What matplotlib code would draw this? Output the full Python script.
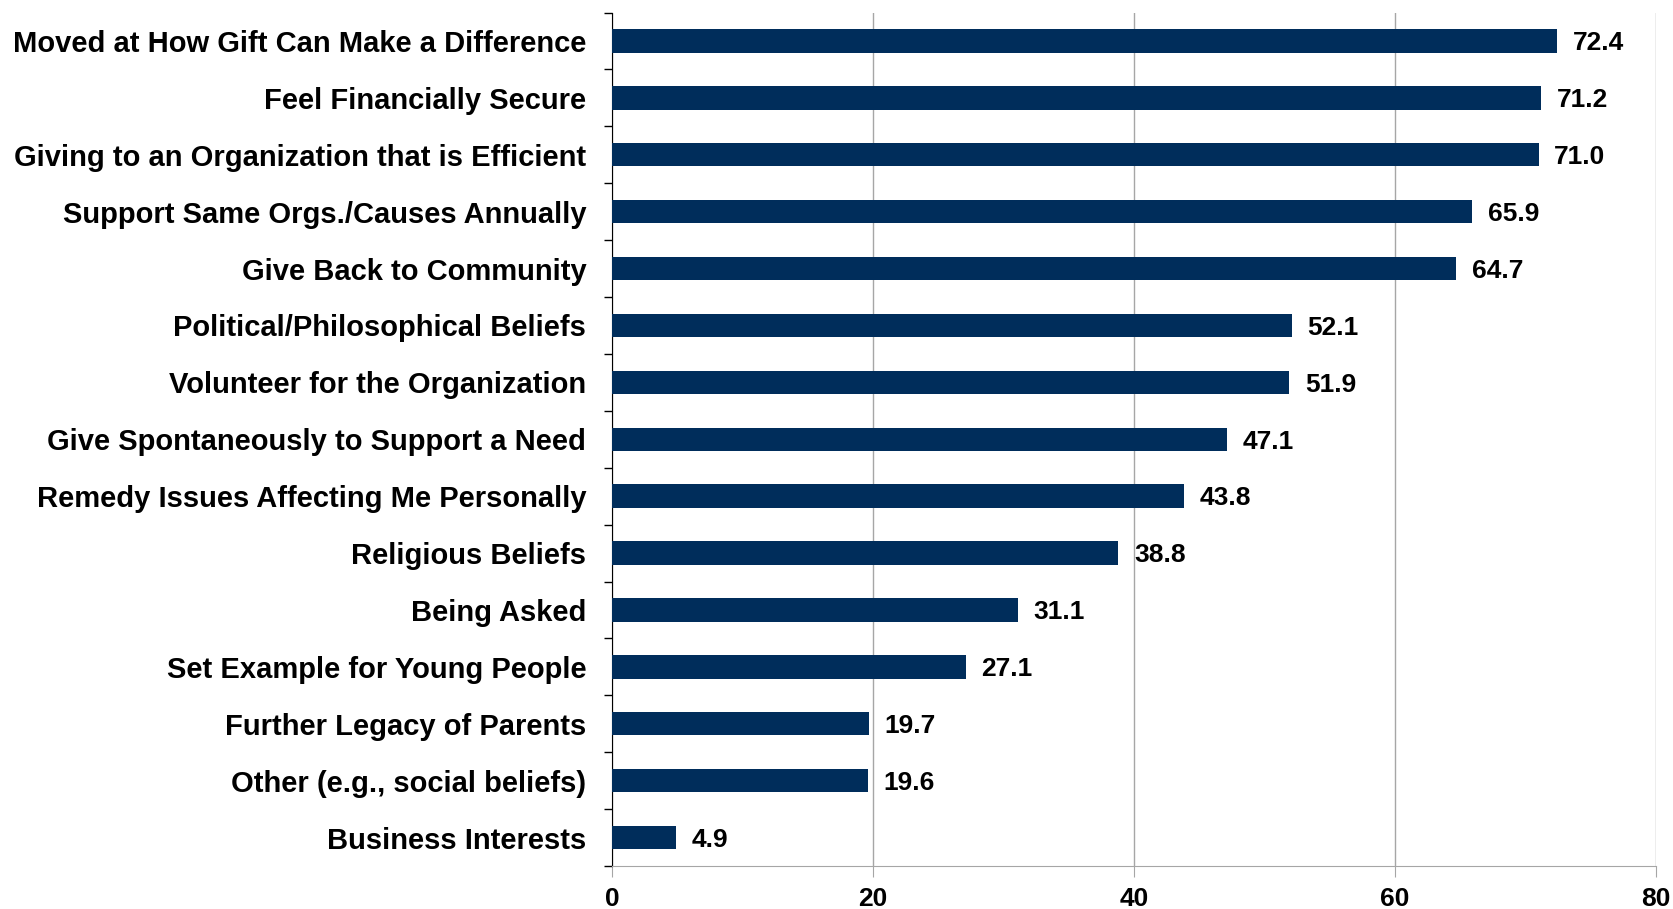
import matplotlib
matplotlib.use("Agg")
import matplotlib.pyplot as plt

categories = [
    "Moved at How Gift Can Make a Difference",
    "Feel Financially Secure",
    "Giving to an Organization that is Efficient",
    "Support Same Orgs./Causes Annually",
    "Give Back to Community",
    "Political/Philosophical Beliefs",
    "Volunteer for the Organization",
    "Give Spontaneously to Support a Need",
    "Remedy Issues Affecting Me Personally",
    "Religious Beliefs",
    "Being Asked",
    "Set Example for Young People",
    "Further Legacy of Parents",
    "Other (e.g., social beliefs)",
    "Business Interests",
]
values = [72.4, 71.2, 71.0, 65.9, 64.7, 52.1, 51.9, 47.1, 43.8, 38.8, 31.1, 27.1, 19.7, 19.6, 4.9]
x_ticks = [0, 20, 40, 60, 80]

plt.rcParams["font.family"] = ["Liberation Sans", "DejaVu Sans"]
plt.rcParams["font.weight"] = "bold"

fig = plt.figure(figsize=(16.74, 9.09), dpi=100)
ax = fig.add_axes([612 / 1674, 1 - 866 / 909, (1656 - 612) / 1674, (866 - 12.5) / 909])

n = len(categories)
pos = list(range(n))
ax.barh(pos, values, height=0.41, color="#002D5B", zorder=3)

# value labels just right of each bar
for p, v in zip(pos, values):
    ax.text(v + 1.2, p + 0.04, f"{v:.1f}", va="center", ha="left", fontsize=19, fontweight="bold")

ax.set_xlim(0, 80)
ax.set_ylim(n - 0.5, -0.5)
ax.set_xticks(x_ticks)
ax.set_xticklabels([str(t) for t in x_ticks], fontsize=19, fontweight="bold")
ax.xaxis.grid(True, color="#A6A6A6", linewidth=1.0, zorder=0)
ax.tick_params(axis="x", length=8, color="#A6A6A6", pad=7)

# category labels between boundary ticks
ax.set_yticks([p - 0.5 for p in pos] + [n - 0.5])
ax.set_yticklabels([])
ax.set_yticks(pos, minor=True)
ax.set_yticklabels(categories, minor=True, fontsize=21, fontweight="bold")
ax.tick_params(axis="y", which="major", length=6, color="black", width=1)
ax.tick_params(axis="y", which="minor", length=0, pad=18.5)

ax.spines["top"].set_visible(False)
ax.spines["right"].set_visible(False)
ax.spines["left"].set_color("black")
ax.spines["bottom"].set_color("#A6A6A6")

fig.savefig("out.png", dpi=100)
